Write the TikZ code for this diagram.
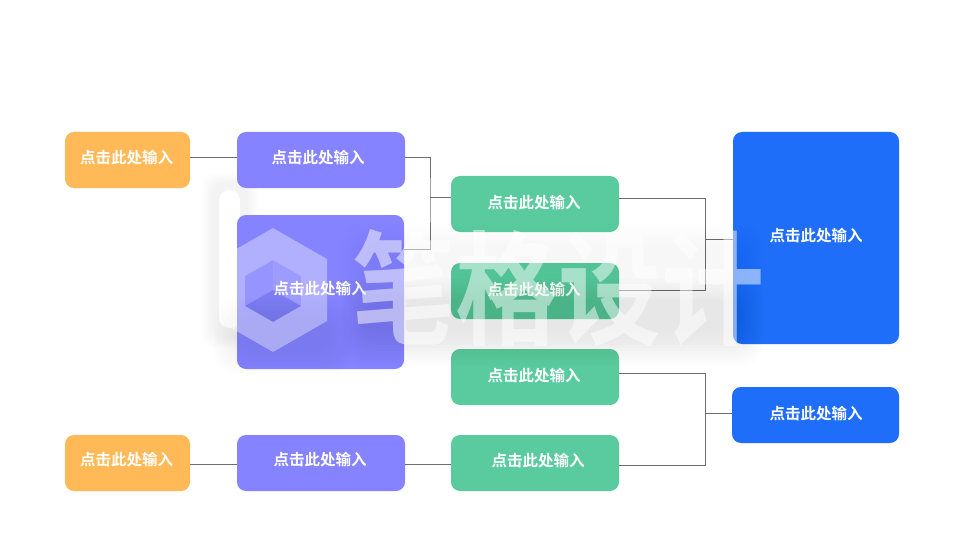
\documentclass[tikz,border=0pt]{standalone}
\usepackage{fontspec}
\setmainfont{Liberation Sans}
\newfontfamily\cjk[BoldFont={Noto Sans CJK SC Bold}]{Noto Sans CJK SC}
\definecolor{cOrange}{HTML}{FFB957}
\definecolor{cPurple}{HTML}{8583FF}
\definecolor{cGreen}{HTML}{5ACB9F}
\definecolor{cBlue}{HTML}{1F6EF9}
\definecolor{cLine}{HTML}{6E6E6E}
\tikzset{
  cardbox/.style={rounded corners=9pt,inner sep=0pt,outer sep=0pt,draw=none},
  cardtext/.style={inner sep=0pt,text=white,font=\cjk\bfseries\fontsize{15.5}{15.5}\selectfont},
  link/.style={draw=cLine,line width=0.9pt},
  wmtext/.style={inner sep=0pt,font=\cjk\bfseries\fontsize{103}{103}\selectfont},
}
% name, x1, y1, x2, y2, colour, text x, text y
\newcommand{\cardat}[8]{%
  \node[cardbox,fill=#6,minimum width={(#4-#2)*1pt},minimum height={(#5-#3)*1pt}] (#1) at ({(#2+#4)/2},{(#3+#5)/2}) {};
  \node[cardtext] (#1T) at (#7,#8+1) {点击此处输入};
}
\begin{document}
\begin{tikzpicture}[x=1pt,y=-1pt]
\useasboundingbox (0,0) rectangle (960,540);
\fill[white] (0,0) rectangle (960,540);
% faint plate left of the logo, behind the cards
\foreach \r in {0,2,...,10}{
  \fill[black,opacity=.006,rounded corners=12pt] ({212-\r},{183-\r}) rectangle ({248+\r},{338+\r});
}
\fill[white,rounded corners=10pt] (219,190) rectangle (240,328);
% cards
\cardat{oa}{65}{132}{190}{188}{cOrange}{126.5}{157}
\cardat{pa}{237}{132}{405}{188}{cPurple}{318}{157}
\cardat{pb}{237}{215}{404}{369}{cPurple}{320}{288}
\cardat{ga}{451}{176}{619}{232}{cGreen}{534}{202}
\cardat{gb}{451}{263}{619}{319}{cGreen}{534}{289}
\cardat{gc}{451}{349}{619}{405}{cGreen}{534}{375}
\cardat{gd}{451}{435}{619}{491}{cGreen}{538}{460}
\cardat{ba}{733}{132}{899}{344}{cBlue}{816}{235}
\cardat{bb}{732}{387}{899}{443}{cBlue}{816}{413}
\cardat{ob}{65}{435}{190}{491}{cOrange}{126.5}{459}
\cardat{pc}{237}{435}{405}{491}{cPurple}{320}{459}
% connectors
\coordinate (ja) at (430,197);
\coordinate (jb) at (705,239);
\coordinate (jc) at (705,413);
\draw[link] ([yshift=3pt]oa.east) -- ([yshift=3pt]pa.west);
\draw[link] ([yshift=3pt]pa.east) -| (ja) |- ([yshift=43pt]pb.east);
\draw[link] (ja) -- (ja -| ga.west);
\draw[link] ([yshift=6pt]ga.east) -| (jb) |- ([yshift=1pt]gb.east);
\draw[link] (jb) -- (jb -| ba.west);
\draw[link] ([yshift=4pt]gc.east) -| (jc) |- ([yshift=-2pt]gd.east);
\draw[link] (jc) -- (jc -| bb.west);
\draw[link] ([yshift=-1pt]ob.east) -- ([yshift=-1pt]pc.west);
\draw[link] ([yshift=-1pt]pc.east) -- ([yshift=-1pt]gd.west);
% watermark: soft shadow
\foreach \r in {0,3,...,21}{
  \fill[black,opacity=.009,rounded corners=20pt] ({362-\r},{300-\r}) rectangle ({742+\r},{345+\r});
  \fill[black,opacity=.005,rounded corners=20pt] ({362-\r},{245-\r}) rectangle ({742+\r},{330+\r});
  \fill[black,opacity=.008,rounded corners=20pt] ({235-\r},{320-\r}) rectangle ({330+\r},{352+\r});
}
% watermark: logo
\fill[white,opacity=.36,even odd rule]
  (273,228) -- (327,259) -- (327,321) -- (273,352) -- (219,321) -- (219,259) -- cycle
  (273,260) -- (301,276) -- (301,306) -- (273,322) -- (245,306) -- (245,276) -- cycle;
\fill[white,opacity=.14] (273,260) -- (273,290) -- (245,306) -- (245,276) -- cycle;
\fill[white,opacity=.2] (273,260) -- (301,276) -- (301,306) -- (273,290) -- cycle;
\fill[black,opacity=.05] (273,290) -- (301,306) -- (273,322) -- (245,306) -- cycle;
% watermark: wordmark
\node[wmtext,text=white,text opacity=.5,yscale=1.2] (wm) at (558,288) {笔格设计};
\end{tikzpicture}
\end{document}
